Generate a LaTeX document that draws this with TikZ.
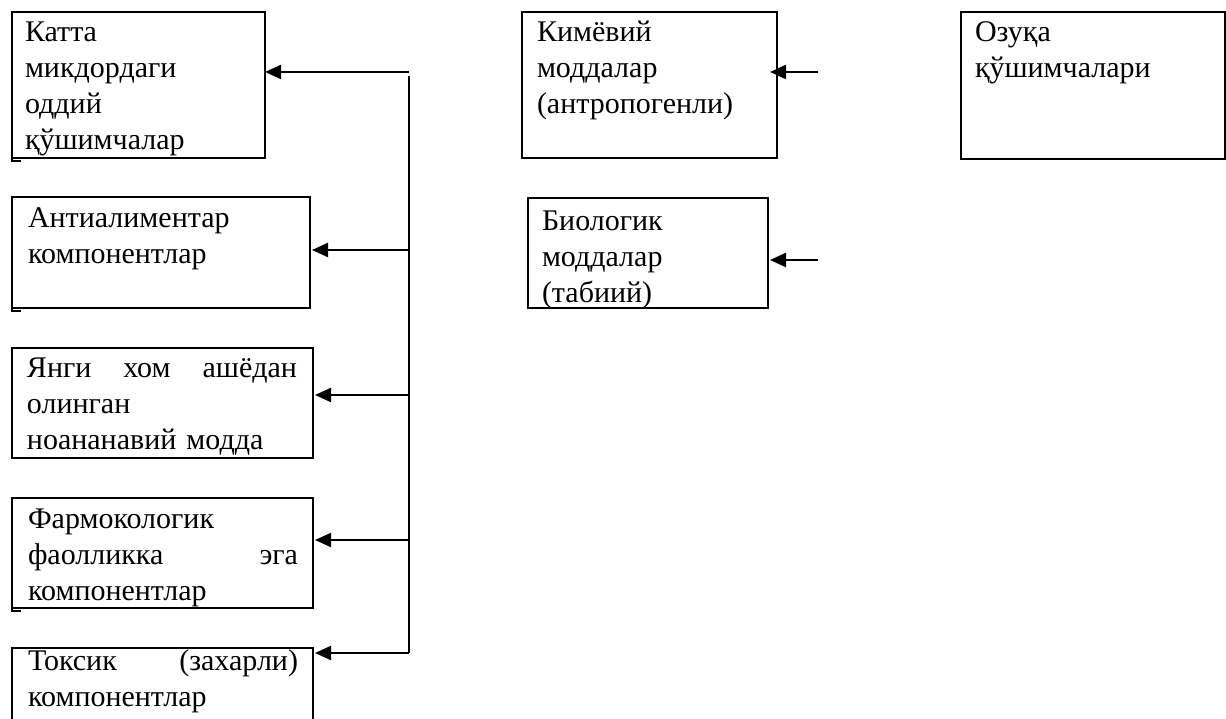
\documentclass[tikz,border=0pt]{standalone}
\usepackage{fontspec}
\setmainfont{Liberation Serif}
\usetikzlibrary{arrows.meta}
\tikzset{
  box/.style={draw=black, line width=2pt, rectangle, inner sep=0pt, outer sep=0pt, anchor=north west},
  txt/.style={inner sep=0pt, outer sep=0pt, anchor=base west, align=left, text width=270pt,
              font=\fontsize{30}{36}\selectfont},
  arr/.style={line width=2.2pt, -{Triangle[length=16pt,width=14pt]}},
  link/.style={line width=2.2pt},
  tick/.style={line width=2.4pt},
}
\begin{document}
\begin{tikzpicture}[x=1pt,y=-1pt]
\useasboundingbox (0,0) rectangle (1226,719);
% left column boxes
\node[box, minimum width=253pt, minimum height=146pt] (b1) at (12,12) {};
\node[box, minimum width=298pt, minimum height=111pt] (b2) at (12,197) {};
\node[box, minimum width=301pt, minimum height=110pt] (b3) at (12,348) {};
\node[box, minimum width=301pt, minimum height=110pt] (b4) at (12,498) {};
\node[box, minimum width=301pt, minimum height=110pt] (b5) at (12,648) {};
% right boxes
\node[box, minimum width=255pt, minimum height=146pt] (k1) at (522,12) {};
\node[box, minimum width=240pt, minimum height=110pt] (k2) at (528,198) {};
\node[box, minimum width=264pt, minimum height=147pt] (o1) at (961,12) {};
% texts
\node[txt] (t1) at (25,42) {Катта\\микдордаги\\оддий\\қўшимчалар};
\node[txt] (t2) at (28,228) {Антиалиментар\\компонентлар};
\node[txt] (t3) at (27,377) {Янги \hfill хом \hfill ашёдан\\олинган\\ноананавий модда};
\node[txt] (t4) at (28,528) {Фармокологик\\фаолликка \hfill эга\\компонентлар};
\node[txt] (t5) at (28,670) {Токсик \hfill (захарли)\\компонентлар};
\node[txt] (t6) at (537,42) {Кимёвий\\моддалар\\(антропогенли)};
\node[txt] (t7) at (542,231) {Биологик\\моддалар\\(табиий)};
\node[txt] (t8) at (975,42) {Озуқа\\қўшимчалари};
% bottom-left ticks
\draw[tick] (12,157) -- (12,161) -- (21,161);
\draw[tick] (12,307) -- (12,311) -- (21,311);
\draw[tick] (12,607) -- (12,611) -- (21,611);
% trunk
\coordinate (s1) at (409,72);
\coordinate (v0) at (409,76);
\coordinate (s2) at (409,250);
\coordinate (s3) at (409,395);
\coordinate (s4) at (409,540);
\coordinate (s5) at (409,653);
\draw[link] (v0) -- (s5);
\draw[arr] (s1) -- (s1 -| b1.east);
\draw[arr] (s2) -- ([xshift=2pt]s2 -| b2.east);
\draw[arr] (s3) -- ([xshift=2pt]s3 -| b3.east);
\draw[arr] (s4) -- ([xshift=2pt]s4 -| b4.east);
\draw[arr] (s5) -- ([xshift=2pt]s5 -| b5.east);
% right arrows
\coordinate (r1) at (818,72);
\coordinate (r2) at (818,260);
\draw[arr] (r1) -- ([xshift=-7pt]r1 -| k1.east);
\draw[arr] (r2) -- ([xshift=2pt]r2 -| k2.east);
\end{tikzpicture}
\end{document}
